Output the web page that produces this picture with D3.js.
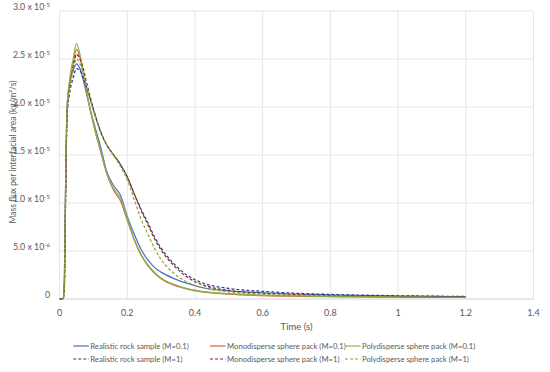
<!DOCTYPE html>
<html lang="en">
  <head>
    <meta charset="UTF-8" />
    <title>Mass flux</title>
    <style>
      body { margin: 0; background: #fff; }
      text { font-family: Lato, "Open Sans", sans-serif; fill: #595959; }
    </style>
  </head>
  <body>
    <svg id="chart" width="550" height="372"></svg>

    <script src="https://d3js.org/d3.v7.min.js"></script>
    <script>
      // time (s), shared by every series
      const times = [0, 0.01, 0.014, 0.018, 0.022, 0.03, 0.04, 0.05, 0.06, 0.07, 0.08, 0.1, 0.12, 0.14, 0.16, 0.18, 0.2,
        0.22, 0.24, 0.26, 0.28, 0.3, 0.34, 0.38, 0.42, 0.5, 0.6, 0.7, 0.8, 0.9, 1.0, 1.1, 1.2];

      // values in units of 1e-5 kg/m2/s
      const rockM01 = [0, 0, 0.2, 1.3, 2.0, 2.25, 2.38, 2.45, 2.4, 2.28, 2.13, 1.85, 1.6, 1.32, 1.18, 1.08, 0.86,
        0.68, 0.52, 0.41, 0.33, 0.28, 0.21, 0.16, 0.12, 0.085, 0.065, 0.052, 0.043, 0.036, 0.031, 0.027, 0.024];
      const monoM01 = [0, 0, 0.15, 1.2, 1.95, 2.25, 2.45, 2.6, 2.52, 2.35, 2.15, 1.82, 1.55, 1.3, 1.13, 1.02, 0.82,
        0.62, 0.46, 0.35, 0.27, 0.21, 0.14, 0.1, 0.075, 0.05, 0.035, 0.028, 0.024, 0.021, 0.019, 0.017, 0.016];
      const polyM01 = [0, 0, 0.2, 1.3, 2.0, 2.3, 2.5, 2.66, 2.55, 2.36, 2.15, 1.83, 1.56, 1.3, 1.15, 1.05, 0.84,
        0.63, 0.47, 0.36, 0.28, 0.22, 0.15, 0.105, 0.08, 0.055, 0.04, 0.032, 0.027, 0.023, 0.021, 0.019, 0.018];
      const rockM1 = [0, 0, 0.1, 1.1, 1.9, 2.15, 2.3, 2.4, 2.38, 2.3, 2.2, 1.97, 1.75, 1.6, 1.5, 1.4, 1.27,
        1.1, 0.94, 0.8, 0.65, 0.53, 0.36, 0.24, 0.17, 0.11, 0.08, 0.06, 0.048, 0.04, 0.034, 0.03, 0.027];
      const monoM1 = [0, 0, 0.1, 1.1, 1.9, 2.2, 2.4, 2.55, 2.5, 2.4, 2.25, 1.98, 1.76, 1.6, 1.5, 1.4, 1.27,
        1.1, 0.93, 0.78, 0.63, 0.51, 0.34, 0.22, 0.15, 0.09, 0.06, 0.045, 0.036, 0.03, 0.026, 0.023, 0.021];
      const polyM1 = [0, 0, 0.15, 1.2, 1.95, 2.2, 2.38, 2.5, 2.45, 2.35, 2.2, 1.96, 1.75, 1.6, 1.49, 1.38, 1.24,
        1.04, 0.84, 0.68, 0.53, 0.41, 0.26, 0.17, 0.12, 0.075, 0.05, 0.038, 0.03, 0.026, 0.023, 0.021, 0.019];

      const xTicks = [0, 0.2, 0.4, 0.6, 0.8, 1, 1.2, 1.4];
      const yTicks = [0, 5, 10, 15, 20, 25, 30]; // units of 1e-6
      const yTickLabels = [["0", ""], ["5.0 x 10", "-6"], ["1.0 x 10", "-5"], ["1.5 x 10", "-5"],
        ["2.0 x 10", "-5"], ["2.5 x 10", "-5"], ["3.0 x 10", "-5"]];

      const series = [
        { name: "Realistic rock sample (M=0.1)", values: rockM01, color: "#4472c4", dash: null },
        { name: "Monodisperse sphere pack (M=0.1)", values: monoM01, color: "#d0643a", dash: null },
        { name: "Polydisperse sphere pack (M=0.1)", values: polyM01, color: "#8db24f", dash: null },
        { name: "Realistic rock sample (M=1)", values: rockM1, color: "#27399a", dash: "3,2" },
        { name: "Monodisperse sphere pack (M=1)", values: monoM1, color: "#7f2a12", dash: "3,2" },
        { name: "Polydisperse sphere pack (M=1)", values: polyM1, color: "#8ea436", dash: "3,2" }
      ];

      const svg = d3.select("#chart");
      const plotL = 59.6, plotR = 533.5, plotT = 11, plotB = 299;

      const x = d3.scaleLinear().domain([0, 1.4]).range([plotL, plotR]);
      const y = d3.scaleLinear().domain([0, 30]).range([plotB, plotT]);

      // gridlines
      svg.append("g")
        .selectAll("line")
        .data(xTicks)
        .enter()
        .append("line")
        .attr("x1", d => x(d)).attr("x2", d => x(d))
        .attr("y1", plotT).attr("y2", plotB)
        .attr("stroke", "#e6e6e6").attr("stroke-width", 1);

      svg.append("g")
        .selectAll("line")
        .data(yTicks)
        .enter()
        .append("line")
        .attr("x1", plotL).attr("x2", plotR)
        .attr("y1", d => y(d)).attr("y2", d => y(d))
        .attr("stroke", d => (d === 0 ? "#d0d0d0" : "#e6e6e6")).attr("stroke-width", 1);

      // x tick labels
      svg.append("g")
        .selectAll("text")
        .data(xTicks)
        .enter()
        .append("text")
        .attr("x", d => x(d))
        .attr("y", 316)
        .attr("text-anchor", "middle")
        .attr("font-size", 9)
        .text(d => d);

      // y tick labels
      const yl = svg.append("g")
        .selectAll("text")
        .data(yTicks)
        .enter()
        .append("text")
        .attr("x", 50)
        .attr("y", d => y(d) - 1)
        .attr("text-anchor", "end")
        .attr("font-size", 8.8);
      yl.append("tspan").text((d, i) => yTickLabels[i][0]);
      yl.append("tspan")
        .attr("dy", -3.2)
        .attr("font-size", 6)
        .text((d, i) => yTickLabels[i][1]);

      // axis titles
      svg.append("text")
        .attr("x", x(0.7))
        .attr("y", 330)
        .attr("text-anchor", "middle")
        .attr("font-size", 9.5)
        .text("Time (s)");

      svg.append("text")
        .attr("transform", "translate(16,152) rotate(-90)")
        .attr("text-anchor", "middle")
        .attr("font-size", 8.5)
        .text("Mass flux per interfacial area (kg/m²/s)");

      // lines
      const line = d3.line()
        .x((d, i) => x(times[i]))
        .y(d => y(d * 10))
        .curve(d3.curveMonotoneX);

      svg.append("g")
        .selectAll("path")
        .data(series)
        .enter()
        .append("path")
        .attr("d", d => line(d.values))
        .attr("fill", "none")
        .attr("stroke", d => d.color)
        .attr("stroke-width", 1.2)
        .attr("stroke-dasharray", d => d.dash);

      // legend
      const legendX = [73.3, 210, 345];
      const legendY = [346, 359];
      const lg = svg.append("g")
        .selectAll("g")
        .data(series)
        .enter()
        .append("g")
        .attr("transform", (d, i) => `translate(${legendX[i % 3]},${legendY[Math.floor(i / 3)]})`);
      lg.append("line")
        .attr("x1", 0).attr("x2", 15.5)
        .attr("stroke", d => d.color)
        .attr("stroke-width", 1.2)
        .attr("stroke-dasharray", d => d.dash);
      lg.append("text")
        .attr("x", 17)
        .attr("y", 3)
        .attr("font-size", 7.7)
        .text(d => d.name);
    </script>
  </body>
</html>
